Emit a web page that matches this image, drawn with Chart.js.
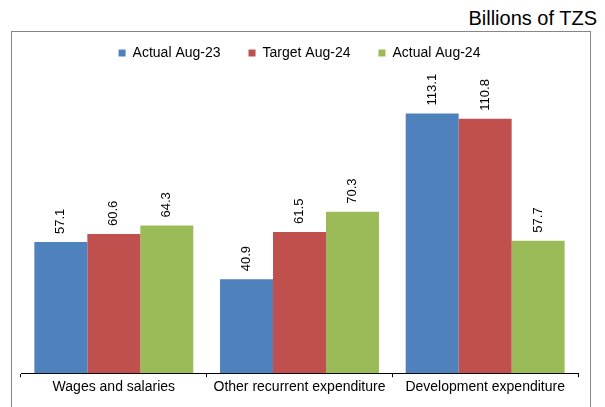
<!DOCTYPE html>
<html>
<head>
<meta charset="utf-8">
<script src="https://cdn.jsdelivr.net/npm/chart.js@4/dist/chart.umd.min.js"></script>
<style>
  body { margin: 0; background: #fff; }
  #wrap { position: relative; width: 605px; height: 407px; overflow: hidden; }
  #frame { position: absolute; left: 11px; top: 31px; width: 578px; height: 420px; border: 1px solid #868686; }
  #unit { position: absolute; right: 8px; top: 7px; font: 20px "Liberation Sans", Arial, sans-serif; color: #000; }
  #chartCanvas { position: absolute; left: 0; top: 0; }
</style>
</head>
<body>
<div id="wrap">
  <div id="frame"></div>
  <div id="unit">Billions of TZS</div>
  <canvas id="chartCanvas" width="605" height="407"></canvas>
</div>
<script>
const categories = ["Wages and salaries", "Other recurrent expenditure", "Development expenditure"];
const actualAug23 = [57.1, 40.9, 113.1];
const targetAug24 = [60.6, 61.5, 110.8];
const actualAug24 = [64.3, 70.3, 57.7];

const FONT = "'Liberation Sans', Arial, sans-serif";

// rotated value labels above each bar
const barLabels = {
  id: "barLabels",
  afterDatasetsDraw(chart) {
    const ctx = chart.ctx;
    ctx.save();
    ctx.font = "13px " + FONT;
    ctx.fillStyle = "#000";
    ctx.textAlign = "left";
    ctx.textBaseline = "middle";
    chart.data.datasets.forEach((ds, i) => {
      chart.getDatasetMeta(i).data.forEach((bar, j) => {
        ctx.save();
        ctx.translate(bar.x, bar.y - 8);
        ctx.rotate(-Math.PI / 2);
        ctx.fillText(ds.data[j].toFixed(1), 0, 0);
        ctx.restore();
      });
    });
    ctx.restore();
  }
};

new Chart("chartCanvas", {
  type: "bar",
  data: {
    labels: categories,
    datasets: [
      { label: "Actual Aug-23", data: actualAug23, backgroundColor: "#4F81BD" },
      { label: "Target Aug-24", data: targetAug24, backgroundColor: "#C0504D" },
      { label: "Actual Aug-24", data: actualAug24, backgroundColor: "#9BBB59" }
    ]
  },
  options: {
    responsive: false,
    animation: false,
    layout: { padding: { left: 21, right: 27, top: 18, bottom: 9 } },
    barPercentage: 1,
    categoryPercentage: 0.856,
    plugins: {
      legend: {
        display: true,
        labels: { boxWidth: 7, boxHeight: 7, padding: 28, color: "#000", font: { size: 14, family: FONT } }
      },
      tooltip: { enabled: false }
    },
    scales: {
      x: {
        grid: { display: true, drawOnChartArea: false, tickLength: 4, color: "#000" },
        border: { display: true, color: "#000" },
        ticks: { color: "#000", padding: 2, font: { size: 14, family: FONT } }
      },
      y: { display: false, min: 0, max: 132 }
    }
  },
  plugins: [barLabels]
});
</script>
</body>
</html>
